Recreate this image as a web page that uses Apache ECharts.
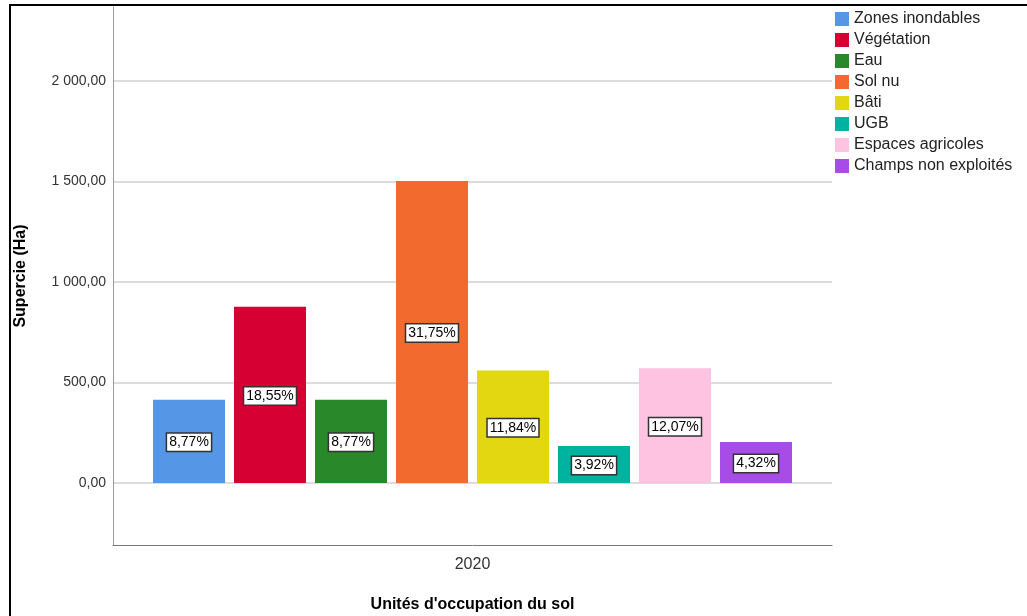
<!DOCTYPE html>
<html>
<head>
<meta charset="utf-8">
<script src="https://cdn.jsdelivr.net/npm/echarts@6/dist/echarts.min.js"></script>
<style>
  html, body { margin: 0; padding: 0; background: #fff; }
  #chart { width: 1027px; height: 616px; }
</style>
</head>
<body>
<div id="chart"></div>
<script>
// données
var years = ["2020"];
var units = ["Zones inondables", "Végétation", "Eau", "Sol nu", "Bâti", "UGB", "Espaces agricoles", "Champs non exploités"];
var areas = [415, 877, 415, 1502, 560, 185, 571, 204];
var shares = ["8,77%", "18,55%", "8,77%", "31,75%", "11,84%", "3,92%", "12,07%", "4,32%"];
var colors = ["#5596e6", "#d60032", "#298829", "#f26a2e", "#e2d710", "#00b3a0", "#fdc3e1", "#a84ce8"];

(function () {
    var myChart = echarts.init(document.getElementById("chart"));

    // format 2 000,00
    function frNumber(v) {
        var s = Math.abs(v).toFixed(2).split(".");
        var ent = s[0].replace(/\B(?=(\d{3})+(?!\d))/g, " ");
        return (v < 0 ? "-" : "") + ent + "," + s[1];
    }

    var series = units.map(function (name, i) {
        return {
            name: name,
            type: "bar",
            data: [areas[i]],
            barWidth: 72,
            barGap: "12.5%",
            itemStyle: { color: colors[i] },
            label: {
                show: true,
                position: "inside",
                formatter: function () { return shares[i]; },
                color: "#000",
                fontFamily: "Liberation Sans",
                fontSize: 14,
                backgroundColor: "#fff",
                borderColor: "#333",
                borderWidth: 1.5,
                padding: [2, 2, 1, 2],
                offset: [0, 1]
            }
        };
    });

    var option = {
        animation: false,
        color: colors,
        textStyle: { fontFamily: "Liberation Sans" },
        grid: {
            left: 113,
            right: 195,
            top: 7,
            bottom: 71,
            containLabel: false,
            outerBoundsMode: "none"
        },
        legend: {
            orient: "vertical",
            left: 835,
            top: 11,
            padding: 0,
            itemWidth: 14,
            itemHeight: 14,
            itemGap: 5,
            icon: "rect",
            textStyle: {
                color: "#222",
                fontSize: 16,
                fontFamily: "Liberation Sans"
            },
            data: units
        },
        xAxis: {
            type: "category",
            data: years,
            name: "Unités d'occupation du sol",
            nameLocation: "middle",
            nameGap: 52,
            nameTextStyle: {
                color: "#000",
                fontSize: 16,
                fontWeight: "bold"
            },
            axisLine: { onZero: false, lineStyle: { color: "#777", width: 1 } },
            axisTick: { show: false },
            axisLabel: { color: "#333", fontSize: 16, margin: 12 }
        },
        yAxis: {
            type: "value",
            min: -308,
            max: 2368,
            name: "Supercie (Ha)",
            nameLocation: "middle",
            nameGap: 84,
            nameTextStyle: {
                color: "#000",
                fontSize: 16,
                fontWeight: "bold"
            },
            axisLine: { show: true, lineStyle: { color: "#999", width: 1 } },
            axisTick: { show: false },
            axisLabel: {
                color: "#333",
                fontSize: 14,
                margin: 7,
                showMinLabel: false,
                showMaxLabel: false,
                formatter: frNumber
            },
            splitLine: {
                showMinLine: false,
                showMaxLine: false,
                lineStyle: { color: "#d0d0d0", width: 1.5 }
            }
        },
        // cadre noir gauche / haut
        graphic: [
            {
                type: "line",
                shape: { x1: 10, y1: 5, x2: 10, y2: 616 },
                style: { stroke: "#000", lineWidth: 2 }
            },
            {
                type: "line",
                shape: { x1: 9, y1: 5, x2: 1027, y2: 5 },
                style: { stroke: "#000", lineWidth: 2 }
            }
        ],
        series: series
    };

    myChart.setOption(option);
    window.addEventListener("resize", function () {
        myChart.resize();
    });
})();
</script>
</body>
</html>
